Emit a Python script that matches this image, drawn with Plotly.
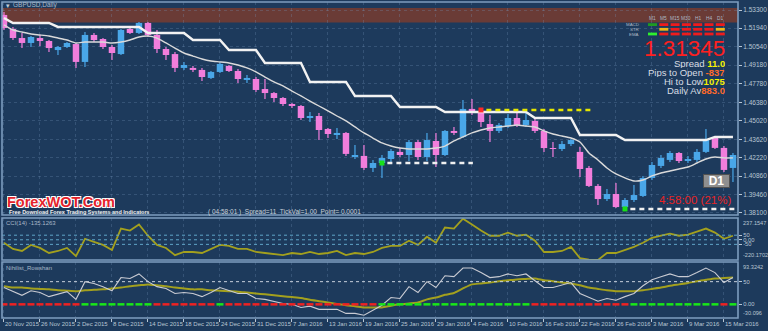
import plotly.graph_objects as go

# ---------------- data ----------------
bar_idx = list(range(82))

date_label_bars = [0, 4, 8, 12, 16, 20, 24, 28, 32, 36, 40, 44, 48, 52, 56, 60, 64, 68, 72, 76, 80]
date_labels = ["20 Nov 2015", "26 Nov 2015", "2 Dec 2015", "8 Dec 2015", "14 Dec 2015", "18 Dec 2015",
               "24 Dec 2015", "31 Dec 2015", "7 Jan 2016", "13 Jan 2016", "19 Jan 2016", "25 Jan 2016",
               "29 Jan 2016", "4 Feb 2016", "10 Feb 2016", "16 Feb 2016", "22 Feb 2016", "26 Feb 2016",
               "3 Mar 2016", "9 Mar 2016", "15 Mar 2016"]

price_ticks = [1.53300, 1.51940, 1.50540, 1.49180, 1.47780, 1.46380, 1.45020,
               1.43620, 1.42220, 1.40860, 1.39460, 1.38100]

open_ = [1.5293, 1.5188, 1.5120, 1.5083, 1.5120, 1.5098, 1.5030, 1.5053, 1.5075, 1.4941,
         1.5143, 1.5113, 1.5053, 1.5000, 1.5188, 1.5158, 1.5233, 1.5143, 1.5038, 1.5000,
         1.4896, 1.4896, 1.4881, 1.4821, 1.4866, 1.4911, 1.4873, 1.4806, 1.4813, 1.4738,
         1.4708, 1.4671, 1.4626, 1.4611, 1.4521, 1.4536, 1.4439, 1.4401, 1.4409, 1.4229,
         1.4237, 1.4147, 1.4184, 1.4214, 1.4267, 1.4244, 1.4341, 1.4229, 1.4349, 1.4244,
         1.4424, 1.4379, 1.4589, 1.4566, 1.4476, 1.4424, 1.4461, 1.4521, 1.4469, 1.4499,
         1.4424, 1.4296, 1.4289, 1.4326, 1.4267, 1.4147, 1.4012, 1.3914, 1.3952, 1.3854,
         1.3907, 1.3937, 1.4072, 1.4162, 1.4207, 1.4259, 1.4199, 1.4207, 1.4267, 1.4371,
         1.4297, 1.4147]
high = [1.5315, 1.5203, 1.5158, 1.5135, 1.5143, 1.5105, 1.5060, 1.5090, 1.5083, 1.5165,
        1.5158, 1.5120, 1.5068, 1.5188, 1.5203, 1.5240, 1.5240, 1.5180, 1.5053, 1.5015,
        1.4941, 1.4911, 1.4896, 1.4873, 1.4933, 1.4918, 1.4888, 1.4843, 1.4828, 1.4813,
        1.4716, 1.4678, 1.4633, 1.4618, 1.4566, 1.4559, 1.4446, 1.4446, 1.4416, 1.4319,
        1.4319, 1.4207, 1.4244, 1.4289, 1.4296, 1.4356, 1.4356, 1.4409, 1.4409, 1.4431,
        1.4454, 1.4656, 1.4663, 1.4581, 1.4544, 1.4484, 1.4551, 1.4559, 1.4559, 1.4529,
        1.4439, 1.4341, 1.4349, 1.4364, 1.4304, 1.4162, 1.4027, 1.3989, 1.4034, 1.3922,
        1.4019, 1.4087, 1.4192, 1.4244, 1.4274, 1.4267, 1.4237, 1.4289, 1.4439, 1.4379,
        1.4311, 1.4259]
low = [1.5180, 1.5105, 1.5045, 1.5053, 1.5060, 1.5015, 1.4993, 1.5045, 1.4896, 1.4903,
       1.5090, 1.5038, 1.4956, 1.4993, 1.5150, 1.5150, 1.5128, 1.5008, 1.4956, 1.4866,
       1.4881, 1.4866, 1.4798, 1.4813, 1.4858, 1.4866, 1.4783, 1.4783, 1.4716, 1.4663,
       1.4641, 1.4611, 1.4596, 1.4506, 1.4491, 1.4356, 1.4371, 1.4364, 1.4237, 1.4214,
       1.4132, 1.4117, 1.4072, 1.4192, 1.4229, 1.4199, 1.4207, 1.4199, 1.4154, 1.4237,
       1.4394, 1.4371, 1.4544, 1.4454, 1.4341, 1.4409, 1.4446, 1.4454, 1.4454, 1.4409,
       1.4267, 1.4229, 1.4274, 1.4311, 1.4079, 1.4004, 1.3869, 1.3899, 1.3847, 1.3824,
       1.3892, 1.3929, 1.4057, 1.4147, 1.4192, 1.4184, 1.4184, 1.4192, 1.4259, 1.4289,
       1.4117, 1.4042]
close = [1.5195, 1.5120, 1.5083, 1.5128, 1.5098, 1.5045, 1.5053, 1.5083, 1.4941, 1.5143,
         1.5105, 1.5053, 1.5008, 1.5180, 1.5158, 1.5233, 1.5143, 1.5038, 1.4993, 1.4896,
         1.4918, 1.4881, 1.4828, 1.4866, 1.4926, 1.4873, 1.4813, 1.4821, 1.4731, 1.4708,
         1.4671, 1.4626, 1.4611, 1.4521, 1.4536, 1.4431, 1.4401, 1.4409, 1.4252, 1.4244,
         1.4147, 1.4184, 1.4222, 1.4274, 1.4244, 1.4341, 1.4229, 1.4356, 1.4244, 1.4424,
         1.4409, 1.4589, 1.4559, 1.4491, 1.4424, 1.4469, 1.4521, 1.4469, 1.4506, 1.4424,
         1.4296, 1.4289, 1.4326, 1.4356, 1.4139, 1.4012, 1.3914, 1.3952, 1.3854, 1.3907,
         1.3944, 1.4072, 1.4169, 1.4222, 1.4259, 1.4199, 1.4214, 1.4267, 1.4356, 1.4297,
         1.4132, 1.4244]

stop_line = [1.5270, 1.5233, 1.5233, 1.5233, 1.5233, 1.5233, 1.5203, 1.5203, 1.5203, 1.5203,
             1.5203, 1.5203, 1.5203, 1.5203, 1.5203, 1.5203, 1.5158, 1.5158, 1.5158, 1.5158,
             1.5158, 1.5105, 1.5105, 1.5105, 1.5105, 1.5030, 1.5030, 1.5030, 1.5030, 1.4933,
             1.4933, 1.4933, 1.4933, 1.4933, 1.4791, 1.4791, 1.4791, 1.4791, 1.4791, 1.4686,
             1.4686, 1.4686, 1.4686, 1.4686, 1.4603, 1.4603, 1.4603, 1.4603, 1.4603, 1.4566,
             1.4566, 1.4566, 1.4566, 1.4566, 1.4566, 1.4566, 1.4566, 1.4566, 1.4566, 1.4521,
             1.4521, 1.4521, 1.4521, 1.4521, 1.4394, 1.4394, 1.4394, 1.4394, 1.4394, 1.4356,
             1.4356, 1.4356, 1.4356, 1.4356, 1.4356, 1.4356, 1.4356, 1.4356, 1.4356, 1.4379,
             1.4379, 1.4379]

ma_line = [1.5218, 1.5180, 1.5165, 1.5150, 1.5143, 1.5135, 1.5120, 1.5105, 1.5083, 1.5090,
           1.5090, 1.5090, 1.5083, 1.5090, 1.5105, 1.5128, 1.5135, 1.5120, 1.5083, 1.5045,
           1.5008, 1.4985, 1.4963, 1.4948, 1.4941, 1.4933, 1.4918, 1.4896, 1.4866, 1.4828,
           1.4791, 1.4761, 1.4723, 1.4686, 1.4648, 1.4611, 1.4574, 1.4536, 1.4499, 1.4454,
           1.4409, 1.4371, 1.4334, 1.4311, 1.4296, 1.4289, 1.4289, 1.4289, 1.4296, 1.4311,
           1.4349, 1.4379, 1.4409, 1.4431, 1.4446, 1.4454, 1.4461, 1.4469, 1.4461, 1.4454,
           1.4424, 1.4401, 1.4386, 1.4371, 1.4341, 1.4259, 1.4207, 1.4147, 1.4102, 1.4072,
           1.4049, 1.4057, 1.4087, 1.4109, 1.4124, 1.4139, 1.4154, 1.4184, 1.4214, 1.4229,
           1.4222, 1.4222]

band_low, band_high = 1.5237, 1.5345

level_prices = [1.4184, 1.4581, 1.3840]
level_start = [42, 53, 69]
level_end = [52.1, 65.2, 81.5]

cci = [-33, -100, -122, -56, -89, -144, -122, -89, -178, 11,
       -22, -56, -111, 122, 100, 167, 44, -56, -89, -167,
       -133, -133, -144, -100, -56, -67, -100, -100, -133, -144,
       -155, -167, -144, -155, -133, -155, -144, -122, -167, -144,
       -155, -133, -89, -67, -67, -11, -56, 33, -33, 133,
       122, 230, 167, 100, 44, 44, 78, 44, 56, -11,
       -133, -133, -122, -78, -200, -215, -220, -144, -144, -111,
       -78, -33, 22, 44, 67, 44, 56, 89, 122, 78,
       11, 44]
cci_levels = [50, 0, -50]
cci_max, cci_min = 237.1547, -220.1702

nih_fast = [37, 28, 20, 30, 26, 17, 22, 28, 11, 50,
            46, 39, 30, 59, 57, 67, 50, 39, 35, 24,
            26, 24, 17, 26, 37, 30, 24, 24, 13, 11,
            7, 2, 0, -7, -4, -11, -11, -11, -20, -20,
            -24, -13, -2, 15, 13, 39, 26, 50, 37, 63,
            61, 80, 80, 70, 59, 61, 67, 63, 67, 52,
            37, 37, 43, 48, 24, 15, 7, 13, 9, 17,
            24, 41, 54, 61, 67, 61, 61, 70, 80, 70,
            48, 59]
nih_slow = [40, 37, 37, 35, 34, 33, 31, 30, 29, 31,
            32, 33, 35, 37, 40, 42, 44, 42, 40, 37,
            35, 33, 33, 31, 30, 29, 28, 26, 24, 22,
            20, 18, 16, 14, 10, 7, 4, 1, -2, -4,
            -7, -7, -7, -3, 0, 2, 4, 11, 15, 21,
            25, 35, 44, 46, 48, 51, 53, 55, 56, 57,
            53, 51, 48, 46, 42, 37, 34, 31, 29, 29,
            29, 31, 34, 37, 41, 44, 47, 51, 54, 57,
            58, 59]
nih_signal = ("RRRRRRRRR" + "GGGGGGGG" + "RRRRRRR" + "G" + "RRRRRRRRRRRRRRRRR"
              + "GGGGGGGGGGGGGGGGG" + "RRRRRRRRRRR" + "GGGGGGGGGG" + "R" + "G")
nih_zero = 0
nih_level = 50
nih_max, nih_min = 93.3242, -30.096

tf_labels = ["M1", "M5", "M15", "M30", "H1", "H4", "D1"]
row_labels = ["MACD", "STR", "EMA"]
RED_S, YEL_S, GRN_D, GRN_L = "#ee1c1c", "#f0b818", "#1f9a22", "#2ef02e"
signal_matrix = [
    [GRN_D, RED_S, RED_S, RED_S, RED_S, RED_S, RED_S],
    [None, YEL_S, RED_S, RED_S, RED_S, RED_S, YEL_S],
    [GRN_L, RED_S, RED_S, RED_S, RED_S, RED_S, RED_S],
]

# ---------------- layout helpers ----------------
W, H = 768, 331
ML, MR, MT, MB = 2, 30, 2, 13
PW, PH = W - ML - MR, H - MT - MB


def fx(px):
    return (px - ML) / PW


def fy(py):
    return (H - MB - py) / PH


BG = "#1d3a5c"
GRID = "rgba(120,150,185,0.28)"
BORDER = "#7d9dbf"
AXTXT = "#b9c6d3"
BLUE = "#4aa7e8"
PINK = "#f27edc"
OLIVE = "#a3a01e"
FONT = "Liberation Sans, Arial, sans-serif"

fig = go.Figure()

# candles: wicks + bodies
up = [c >= o for o, c in zip(open_, close)]
for is_up, col in [(True, BLUE), (False, PINK)]:
    wx, wy = [], []
    for i in bar_idx:
        if up[i] == is_up:
            wx += [i, i, None]
            wy += [low[i], high[i], None]
    fig.add_trace(go.Scatter(x=wx, y=wy, mode="lines", line=dict(color=col, width=1.2),
                             hoverinfo="skip", connectgaps=False))
fig.add_trace(go.Bar(
    x=bar_idx, base=[min(o, c) for o, c in zip(open_, close)],
    y=[max(abs(c - o), 0.00012) for o, c in zip(open_, close)],
    width=0.72, marker=dict(color=[BLUE if u else PINK for u in up], line=dict(width=0)),
    hoverinfo="skip"))

fig.add_trace(go.Scatter(x=bar_idx, y=stop_line, mode="lines",
                         line=dict(color="#f2f2f2", width=2.4), hoverinfo="skip"))
fig.add_trace(go.Scatter(x=bar_idx, y=ma_line, mode="lines",
                         line=dict(color="#dadada", width=1.4, shape="spline", smoothing=0.6),
                         hoverinfo="skip"))

level_line_colors = ["#f0f0f0", "#e6e600", "#f0f0f0"]
level_marker_colors = ["#18e018", "#ff2a2a", "#18e018"]
for p, s, e, lc, mc in zip(level_prices, level_start, level_end, level_line_colors, level_marker_colors):
    fig.add_trace(go.Scatter(x=[s + 0.6, e], y=[p, p], mode="lines",
                             line=dict(color=lc, width=2.5, dash="5px,4px"), hoverinfo="skip"))
    fig.add_trace(go.Scatter(x=[s], y=[p], mode="markers",
                             marker=dict(symbol="square", size=5, color=mc, line=dict(width=0)),
                             hoverinfo="skip"))

# CCI
fig.add_trace(go.Scatter(x=bar_idx, y=cci, mode="lines", yaxis="y2",
                         line=dict(color=OLIVE, width=1.8), hoverinfo="skip"))

# Nihilist
fig.add_trace(go.Scatter(x=bar_idx, y=nih_slow, mode="lines", yaxis="y3",
                         line=dict(color=OLIVE, width=2, shape="spline", smoothing=0.5),
                         hoverinfo="skip"))
fig.add_trace(go.Scatter(x=bar_idx, y=nih_fast, mode="lines", yaxis="y3",
                         line=dict(color="#c9cbd3", width=1.1), hoverinfo="skip"))
fig.add_trace(go.Scatter(
    x=bar_idx, y=[nih_zero for _ in bar_idx], mode="markers", yaxis="y3",
    marker=dict(symbol="line-ew", size=5,
                line=dict(width=2.5, color=["#19e619" if c == "G" else "#ee2222" for c in nih_signal])),
    hoverinfo="skip"))

shapes = []
shapes.append(dict(type="rect", xref="paper", x0=0, x1=1, yref="y", y0=band_low, y1=band_high,
                   fillcolor="#6a3b36", line=dict(width=0), layer="below"))
for v in cci_levels:
    shapes.append(dict(type="line", xref="paper", x0=0, x1=1, yref="y2", y0=v, y1=v,
                       line=dict(color="#5fa4c8", width=1, dash="dot")))
shapes.append(dict(type="line", xref="paper", x0=0, x1=1, yref="y3", y0=nih_level, y1=nih_level,
                   line=dict(color="#c8d0dc", width=1, dash="dot")))
for yr in ["y domain", "y2 domain", "y3 domain"]:
    shapes.append(dict(type="rect", xref="paper", x0=0, x1=1, yref=yr, y0=0, y1=1,
                       line=dict(color=BORDER, width=1.6), fillcolor="rgba(0,0,0,0)"))

# indicator matrix shapes
col_x0, col_dx, cell_w = 652.5, 11.3, 9
row_y = [24.6, 29.3, 34.0]
for r, row in enumerate(signal_matrix):
    for c, col in enumerate(row):
        if col is None:
            continue
        cx = col_x0 + c * col_dx
        shapes.append(dict(type="rect", xref="paper", yref="paper",
                           x0=fx(cx - cell_w / 2), x1=fx(cx + cell_w / 2),
                           y0=fy(row_y[r] + 1.4), y1=fy(row_y[r] - 1.4),
                           fillcolor=col, line=dict(width=0)))

ann = []


def txt(x, y, text, size, color, xanchor="left", bold=False, **kw):
    d = dict(x=fx(x), y=fy(y), xref="paper", yref="paper", text=("<b>%s</b>" % text) if bold else text,
             showarrow=False, xanchor=xanchor, yanchor="middle",
             font=dict(family=FONT, size=size, color=color))
    d.update(kw)
    ann.append(d)


txt(4, 5, "▾", 7, "#c0ccd8")
txt(11, 5, "GBPUSD,Daily", 6.5, "#a9b8c8")
txt(4, 223, "CCI(14) -135.1263", 6, "#a9b8c8")
txt(4, 268, "Nihilist_Rowshan", 6, "#a9b8c8")

for i, t in enumerate(tf_labels):
    txt(col_x0 + i * col_dx, 18, t, 4.8, "#aeb8c4", xanchor="center")
for r, t in enumerate(row_labels):
    txt(641, row_y[r], t, 4.4, "#aeb8c4", xanchor="right")

txt(727, 47.5, "1.31345", 22.5, "#ff2020", xanchor="right", height=20)
info_rows = [("Spread ", "11.0", "#f4f000", 63.5), ("Pips to Open ", "-837", "#ff6a2a", 72.5),
             ("Hi to Low", "1075", "#f4f000", 81.5), ("Daily Av", "883.0", "#ff6a2a", 90.5)]
for lab, val, c, yy in info_rows:
    txt(727, yy, "%s<span style='color:%s'><b>%s</b></span>" % (lab, c, val), 9.5, "#d8dde4",
        xanchor="right", height=9)

ann.append(dict(x=fx(716.5), y=fy(180.5), xref="paper", yref="paper", text="<b>D1</b>",
                showarrow=False, xanchor="center", yanchor="middle", width=25, height=12,
                bgcolor="#8f8f8f", bordercolor="#505050", borderwidth=1, borderpad=0,
                font=dict(family=FONT, size=12, color="#ffffff")))
txt(733, 200, "4:58:00 (21%)", 11.5, "#e82424", xanchor="right")

ann.append(dict(x=fx(5), y=fy(201.5), xref="paper", yref="paper", text="<b>ForexWOT.Com</b>",
                showarrow=False, xanchor="left", yanchor="middle", height=14,
                font=dict(family=FONT, size=14.5, color="#e5232b",
                          shadow="-1px -1px 0 #fff, 1px -1px 0 #fff, -1px 1px 0 #fff, 1px 1px 0 #fff")))
txt(7, 211.8, "Free Download Forex Trading Systems and Indicators", 5.5, "#f0f0f0", bold=True, height=6)
txt(206, 211.5, "( 04:58:01 )  Spread=11  TickVal=1.00  Point= 0.0001", 6.5, "#c8d0d8")

for b, lab in zip(date_label_bars, date_labels):
    ann.append(dict(x=b, y=fy(324.5), xref="x", yref="paper", text=lab, showarrow=False,
                    xanchor="left", yanchor="middle", xshift=-1,
                    font=dict(family=FONT, size=6, color=AXTXT)))

for yref, v, anc, lab in [("y2", cci_max, "top", "237.1547"), ("y2", cci_min, "bottom", "-220.1702"),
                          ("y3", nih_max, "top", "93.3242"), ("y3", nih_min, "bottom", "-30.096")]:
    ann.append(dict(x=1, xref="paper", y=v, yref=yref, text=lab,
                    showarrow=False, xanchor="left", yanchor=anc, xshift=3,
                    font=dict(family=FONT, size=5.6, color=AXTXT)))

axfont = dict(family=FONT, size=6.5, color=AXTXT)
smallfont = dict(family=FONT, size=5.8, color=AXTXT)
fig.update_layout(
    width=W, height=H, margin=dict(l=ML, r=MR, t=MT, b=MB),
    paper_bgcolor=BG, plot_bgcolor=BG, showlegend=False, hovermode=False,
    barmode="overlay",
    xaxis=dict(domain=[0, 1], range=[-0.22, 81.56], anchor="y3", tickvals=date_label_bars,
               showticklabels=False, ticks="outside", ticklen=3, tickcolor=AXTXT,
               showgrid=True, gridcolor=GRID, griddash="dot", gridwidth=1,
               zeroline=False, showline=False, fixedrange=True),
    yaxis=dict(domain=[fy(215), 1], range=[1.37945, 1.53899], side="right", anchor="x",
               tickvals=price_ticks, ticktext=["%.5f" % v for v in price_ticks], tickfont=axfont,
               ticks="outside", ticklen=3, tickcolor=AXTXT, showgrid=True, gridcolor=GRID,
               griddash="dot", zeroline=False, showline=False, automargin=False),
    yaxis2=dict(domain=[fy(260), fy(218)], range=[cci_min, cci_max], side="right", anchor="x",
                tickvals=cci_levels, ticktext=["50", "0.00", "-50"], tickfont=smallfont,
                ticks="outside", ticklen=3, tickcolor=AXTXT, showgrid=False, zeroline=False,
                showline=False, automargin=False),
    yaxis3=dict(domain=[0, fy(262)], range=[nih_min, nih_max], side="right", anchor="x",
                tickvals=[nih_level, nih_zero], ticktext=["50", "0.00"], tickfont=smallfont,
                ticks="outside", ticklen=3, tickcolor=AXTXT, showgrid=False, zeroline=False,
                showline=False, automargin=False),
    shapes=shapes, annotations=ann,
)

fig.write_html("out.html")
